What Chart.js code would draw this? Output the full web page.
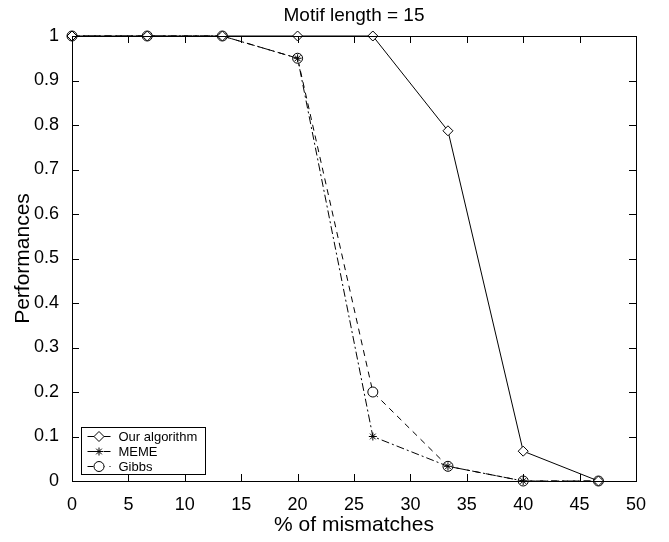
<!DOCTYPE html>
<html lang="en">
<head>
  <meta charset="UTF-8" />
  <title>Motif length = 15</title>
  <script src="https://cdn.jsdelivr.net/npm/chart.js"></script>
  <style>
    body { margin: 0; background: #fff; }
    #wrap { width: 669px; height: 542px; }
  </style>
</head>
<body>
<div id="wrap"><canvas id="chart" width="669" height="542"></canvas></div>
<script>
  const mismatches = [0, 6.67, 13.33, 20, 26.67, 33.33, 40, 46.67];
  const ourAlgorithm = [1, 1, 1, 1, 1, 0.787, 0.067, 0];
  const meme = [1, 1, 1, 0.95, 0.1, 0.033, 0, 0];
  const gibbs = [1, 1, 1, 0.95, 0.2, 0.033, 0, 0];
  const xTicks = [0, 5, 10, 15, 20, 25, 30, 35, 40, 45, 50];
  const chartTitle = 'Motif length = 15';

  const FONT = "'Liberation Sans', Arial, sans-serif";
  const toPts = ys => ys.map((y, i) => ({ x: mismatches[i], y: y }));

  // title over the axes, ticks drawn inside the box (matlab style), legend box
  const boxPlugin = {
    id: 'box',
    afterDraw(chart) {
      const ctx = chart.ctx, a = chart.chartArea;
      const xs = chart.scales.x, ys = chart.scales.y;
      ctx.save();
      ctx.fillStyle = '#000';
      ctx.font = '19px ' + FONT;
      ctx.textAlign = 'center';
      ctx.textBaseline = 'middle';
      ctx.fillText(chartTitle, (a.left + a.right) / 2, 16);

      ctx.strokeStyle = '#000';
      ctx.lineWidth = 1;
      ctx.setLineDash([]);
      ctx.strokeRect(a.left + 0.5, a.top + 0.5, a.right - a.left, a.bottom - a.top);
      ctx.beginPath();
      const tl = 7;
      xTicks.forEach(v => {
        const px = Math.round(xs.getPixelForValue(v)) + 0.5;
        ctx.moveTo(px, a.bottom); ctx.lineTo(px, a.bottom - tl);
        ctx.moveTo(px, a.top); ctx.lineTo(px, a.top + tl);
      });
      for (let k = 0; k <= 10; k++) {
        const py = Math.round(ys.getPixelForValue(k / 10)) + 0.5;
        ctx.moveTo(a.left, py); ctx.lineTo(a.left + tl, py);
        ctx.moveTo(a.right, py); ctx.lineTo(a.right - tl, py);
      }
      ctx.stroke();

      // legend
      const lx = 81.5, ly = 427.5, lw = 124, lh = 47;
      ctx.fillStyle = '#fff';
      ctx.fillRect(lx, ly, lw, lh);
      ctx.strokeRect(lx, ly, lw, lh);
      ctx.font = '13px ' + FONT;
      ctx.textAlign = 'left';
      chart.data.datasets.forEach((ds, i) => {
        const y = ly + 9 + i * 15;
        ctx.save();
        ctx.setLineDash(ds.borderDash || []);
        ctx.beginPath();
        ctx.moveTo(lx + 6, y); ctx.lineTo(lx + 29, y);
        ctx.strokeStyle = '#000';
        ctx.stroke();
        ctx.restore();
        ctx.fillStyle = '#fff';
        ctx.strokeStyle = '#000';
        Chart.helpers.drawPoint(ctx, {
          pointStyle: ds.pointStyle, radius: ds.pointRadius, borderWidth: 1, rotation: 0
        }, lx + 17.5, y);
        ctx.fillStyle = '#000';
        ctx.fillText(ds.label, lx + 37, y + 1);
      });
      ctx.restore();
    }
  };

  const common = {
    borderColor: '#000',
    borderWidth: 1,
    pointBorderColor: '#000',
    pointBackgroundColor: '#fff',
    pointBorderWidth: 1,
    pointHoverRadius: 5,
    showLine: true,
    fill: false,
    tension: 0,
    clip: false
  };

  new Chart(document.getElementById('chart'), {
    type: 'scatter',
    data: {
      datasets: [
        Object.assign({}, common, {
          label: 'Our algorithm', data: toPts(ourAlgorithm),
          pointStyle: 'rectRot', pointRadius: 5, borderDash: []
        }),
        Object.assign({}, common, {
          label: 'MEME', data: toPts(meme),
          pointStyle: 'star', pointRadius: 4, borderDash: [8, 3, 2, 3]
        }),
        Object.assign({}, common, {
          label: 'Gibbs', data: toPts(gibbs),
          pointStyle: 'circle', pointRadius: 5, borderDash: [6, 5]
        })
      ]
    },
    options: {
      responsive: false,
      animation: false,
      layout: { padding: { left: 1, right: 33, top: 36, bottom: 0 } },
      plugins: {
        legend: { display: false },
        tooltip: { enabled: false },
        title: { display: false }
      },
      scales: {
        x: {
          type: 'linear',
          min: 0, max: 50,
          afterBuildTicks: s => { s.ticks = xTicks.map(v => ({ value: v })); },
          afterFit: s => { s.height = 61; },
          grid: { display: false },
          border: { display: false },
          ticks: { color: '#000', font: { family: FONT, size: 18 }, padding: 5, maxRotation: 0 },
          title: {
            display: true, text: '% of mismatches', color: '#000',
            font: { family: FONT, size: 21 }, padding: { top: 2, bottom: 4 }
          }
        },
        y: {
          min: 0, max: 1,
          ticks: {
            stepSize: 0.1, color: '#000', font: { family: FONT, size: 18 }, padding: 5,
            callback: v => String(Number(v.toFixed(1)))
          },
          afterFit: s => { s.width = 71; },
          grid: { display: false },
          border: { display: false },
          title: {
            display: true, text: 'Performances', color: '#000',
            font: { family: FONT, size: 21 }, padding: { top: 10, bottom: 4 }
          }
        }
      }
    },
    plugins: [boxPlugin]
  });
</script>
</body>
</html>
